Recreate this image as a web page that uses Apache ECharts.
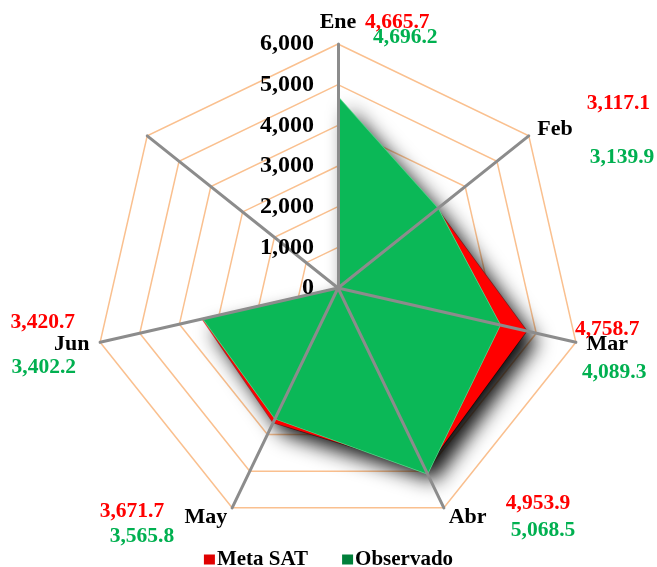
<!DOCTYPE html>
<html><head><meta charset="utf-8">
<script src="https://cdn.jsdelivr.net/npm/echarts@6/dist/echarts.min.js"></script>
<style>html,body{margin:0;padding:0;background:#fff}#c{width:657px;height:567px}</style>
</head><body><div id="c"></div>
<script>
// ---- data ----
const months = ['Ene', 'Feb', 'Mar', 'Abr', 'May', 'Jun', ''];
const metaSAT = [4665.7, 3117.1, 4758.7, 4953.9, 3671.7, 3420.7, 0];
const observado = [4696.2, 3139.9, 4089.3, 5068.5, 3565.8, 3402.2, 0];
const seriesNames = ['Meta SAT', 'Observado'];
const axisMax = 6000;
const splitCount = 6;

// ---- layout / style ----
const CX = 338, CY = 288, R = 244;
const FONT = '"Liberation Serif", "Times New Roman", serif';
const RED = '#FF0000', GREEN = '#00B050';
// value label offsets relative to axis tip: [dx, dy, align]
const labelLayout = [
  { r: [27, -22, 'left'], g: [35, -7, 'left'] },
  { r: [58, -32, 'left'], g: [61, 22, 'left'] },
  { r: [-1, -13, 'left'], g: [6, 30, 'left'] },
  { r: [62, -4, 'left'], g: [67, 23, 'left'] },
  { r: [-68, 4, 'right'], g: [-58, 29, 'right'] },
  { r: [-25, -20, 'right'], g: [-24, 25, 'right'] }
];

// ECharts radar places indicators counter-clockwise; reorder so months go clockwise
const n = months.length;
const order = [0];
for (let i = n - 1; i >= 1; i--) order.push(i);
const pick = arr => order.map(i => arr[i]);

const fmt1 = v => v.toLocaleString('en-US', { minimumFractionDigits: 1, maximumFractionDigits: 1 });
const fmt0 = v => Math.round(v).toLocaleString('en-US');

function tip(m) {
  const a = 2 * Math.PI * m / n;
  return [CX + R * Math.sin(a), CY - R * Math.cos(a)];
}

const indicatorsBase = order.map(i => ({ name: months[i], max: axisMax, min: 0 }));
const indicatorsTop = order.map((i, k) => ({
  name: months[i], max: axisMax, min: 0,
  axisLabel: k === 0 ? {
    show: true, color: '#000', fontFamily: FONT, fontWeight: 'bold', fontSize: 24,
    margin: 24, formatter: v => fmt0(v)
  } : { show: false }
}));

const graphics = [];
labelLayout.forEach((L, m) => {
  const p = tip(m);
  [['r', metaSAT, RED], ['g', observado, GREEN]].forEach(([k, arr, col]) => {
    const o = L[k];
    graphics.push({
      type: 'text', x: p[0] + o[0], y: p[1] + o[1], z: 20,
      style: {
        text: fmt1(arr[m]), fill: col, font: 'bold 21.5px ' + FONT,
        align: o[2], verticalAlign: 'middle', textAlign: o[2], textVerticalAlign: 'middle'
      }
    });
  });
});

const option = {
  animation: false,
  backgroundColor: '#fff',
  legend: {
    top: 544, left: 'center', itemWidth: 11, itemHeight: 10, itemGap: 34,
    icon: 'rect',
    textStyle: { color: '#000', fontFamily: FONT, fontWeight: 'bold', fontSize: 21, padding: [0, 0, 0, -3] },
    data: seriesNames
  },
  radar: [
    {
      center: [CX, CY], radius: R, splitNumber: splitCount, shape: 'polygon', z: 0,
      indicator: indicatorsBase,
      nameGap: 11,
      axisName: { color: '#000', fontFamily: FONT, fontWeight: 'bold', fontSize: 22 },
      axisLine: { show: false },
      splitLine: { lineStyle: { color: '#FAC08F', width: 1.5 } },
      splitArea: { show: false }
    },
    {
      center: [CX, CY], radius: R, splitNumber: splitCount, shape: 'polygon', z: 5,
      indicator: indicatorsTop,
      axisName: { show: false },
      axisLine: { show: true, lineStyle: { color: '#8C8C8C', width: 3 } },
      splitLine: { show: false },
      splitArea: { show: false },
      axisTick: { show: false }
    }
  ],
  series: [{
    type: 'radar', radarIndex: 0, symbol: 'none', z: 2,
    data: [
      {
        name: seriesNames[0], value: pick(metaSAT),
        itemStyle: { color: '#E00000' },
        lineStyle: { color: '#FF5050', width: 1.5 },
        areaStyle: {
          color: RED, opacity: 1,
          shadowBlur: 20, shadowColor: 'rgba(0,0,0,0.95)', shadowOffsetX: 10, shadowOffsetY: 11
        }
      },
      {
        name: seriesNames[1], value: pick(observado),
        itemStyle: { color: '#00803A' },
        lineStyle: { color: '#55D88A', width: 1.5 },
        areaStyle: { color: '#0BB857', opacity: 1 }
      }
    ]
  }],
  graphic: graphics
};

const chart = echarts.init(document.getElementById('c'), null, { renderer: 'canvas' });
chart.setOption(option);
</script>
</body></html>
